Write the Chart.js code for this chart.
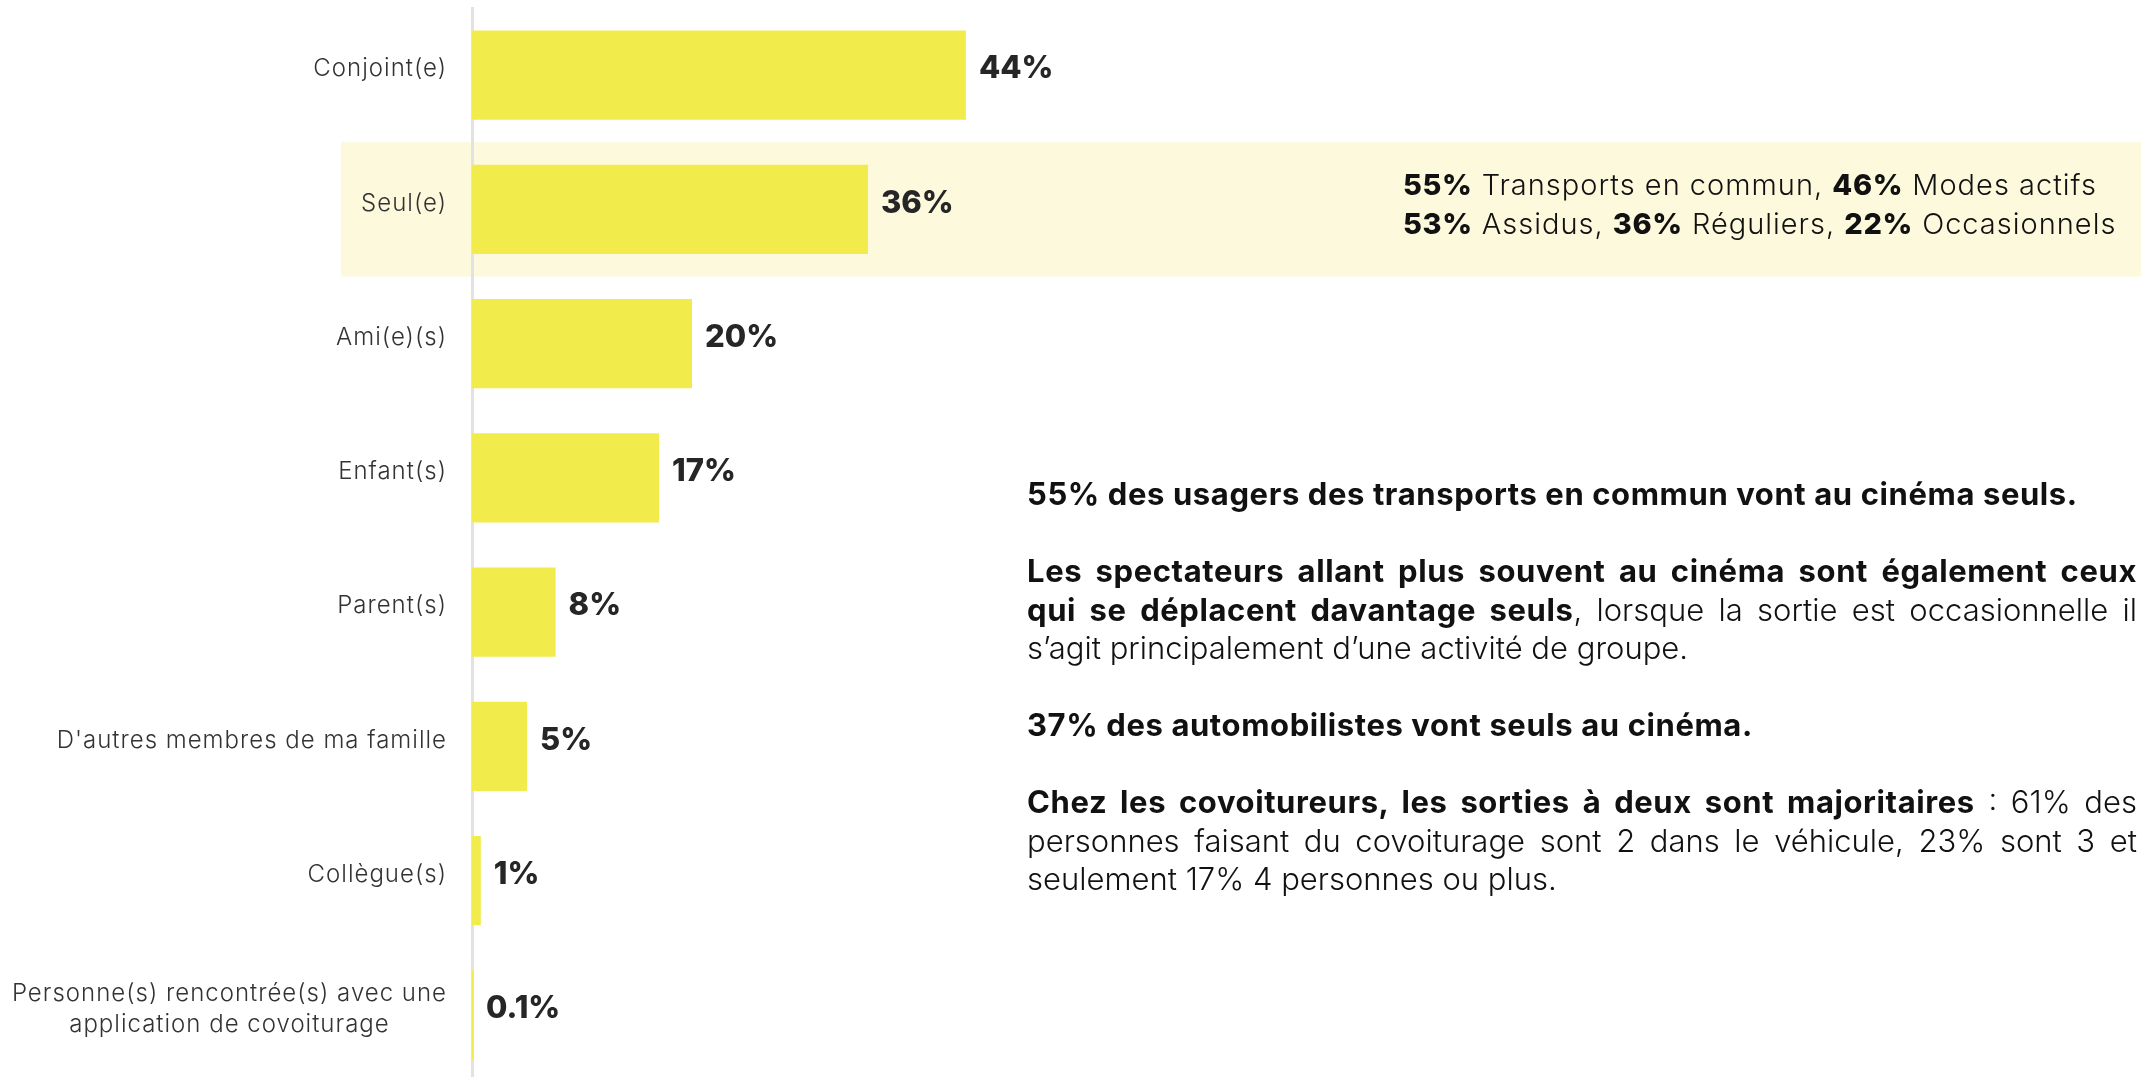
<!DOCTYPE html>
<html lang="fr">
<head>
<meta charset="utf-8">
<script src="https://cdn.jsdelivr.net/npm/chart.js@4"></script>
<style>
  html, body { margin: 0; padding: 0; background: #fff; overflow: hidden; }
  #wrap { position: relative; width: 2141px; height: 1082px; }
  #chart { position: absolute; left: 0; top: 0; }
  .note { position: absolute; font-family: Inter, sans-serif; color: #111; font-weight: 300; }
  .note b { font-weight: 700; }
  #band { left: 1403px; top: 165px; font-size: 29px; line-height: 39px; letter-spacing: 1px; white-space: nowrap; }
  #band b { font-weight: 800; letter-spacing: 0.6px; }
  #text { left: 1027px; top: 475px; width: 1110px; font-size: 31px; line-height: 38.5px; }
  #text b { letter-spacing: 0.6px; }
  #text .l { text-align: left; white-space: nowrap; }
  #text .j { text-align: justify; text-align-last: justify; white-space: nowrap; }
  #text .gap { height: 38.5px; }
</style>
</head>
<body>
<div id="wrap">
  <canvas id="chart" width="2141" height="1082"></canvas>
  <div class="note" id="band">
    <div><b>55%</b> Transports en commun, <b>46%</b> Modes actifs</div>
    <div><b>53%</b> Assidus, <b>36%</b> Réguliers, <b>22%</b> Occasionnels</div>
  </div>
  <div class="note" id="text">
    <div class="l"><b>55% des usagers des transports en commun vont au cinéma seuls.</b></div>
    <div class="gap"></div>
    <div class="j"><b>Les spectateurs allant plus souvent au cinéma sont également ceux</b></div>
    <div class="j"><b>qui se déplacent davantage seuls</b>, lorsque la sortie est occasionnelle il</div>
    <div class="l">s’agit principalement d’une activité de groupe.</div>
    <div class="gap"></div>
    <div class="l"><b>37% des automobilistes vont seuls au cinéma.</b></div>
    <div class="gap"></div>
    <div class="j"><b>Chez les covoitureurs, les sorties à deux sont majoritaires</b> : 61% des</div>
    <div class="j">personnes faisant du covoiturage sont 2 dans le véhicule, 23% sont 3 et</div>
    <div class="l">seulement 17% 4 personnes ou plus.</div>
  </div>
</div>
<script>
const categories = [
  'Conjoint(e)', 'Seul(e)', 'Ami(e)(s)', 'Enfant(s)', 'Parent(s)',
  "D'autres membres de ma famille", 'Collègue(s)',
  ['Personne(s) rencontrée(s) avec une', 'application de covoiturage'],
];
const values = [44.9, 36, 20, 17, 7.6, 5, 0.8, 0.1];
const valueLabels = ['44%', '36%', '20%', '17%', '8%', '5%', '1%', '0.1%'];
const highlightIndex = 1;

const C = { bar: '#f1ec4b', band: '#fdf9dc', axis: '#e2e2e2', label: '#333', value: '#262626' };
const FONT = 'Inter, sans-serif';
const LABEL_RIGHT = 447;
const TEXT_SHIFT = -6;

// bande surlignée derrière "Seul(e)"
const bandPlugin = {
  id: 'band',
  beforeDraw(chart) {
    const y = chart.scales.y, ctx = chart.ctx;
    const half = (y.getPixelForValue(1) - y.getPixelForValue(0)) / 2;
    const cy = y.getPixelForValue(highlightIndex);
    ctx.save();
    ctx.fillStyle = C.band;
    ctx.fillRect(341, cy - half, chart.width - 341, half * 2);
    ctx.restore();
  },
};

// libellés des catégories (multi-lignes centrées entre elles)
const labelPlugin = {
  id: 'labels',
  afterDraw(chart) {
    const y = chart.scales.y, ctx = chart.ctx;
    ctx.save();
    ctx.font = `300 24px ${FONT}`;
    ctx.letterSpacing = '1px';
    ctx.fillStyle = C.label;
    ctx.textBaseline = 'middle';
    ctx.textAlign = 'center';
    categories.forEach((c, i) => {
      const lines = Array.isArray(c) ? c : [c];
      const w = Math.max(...lines.map(l => ctx.measureText(l).width));
      const cy = y.getPixelForValue(i) + TEXT_SHIFT;
      const lh = 31;
      lines.forEach((l, k) => {
        ctx.fillText(l, LABEL_RIGHT - w / 2, cy + (k - (lines.length - 1) / 2) * lh);
      });
    });
    ctx.restore();
  },
};

// valeurs en bout de barre
const valuePlugin = {
  id: 'values',
  afterDatasetsDraw(chart) {
    const ctx = chart.ctx;
    ctx.save();
    ctx.font = `800 31px ${FONT}`;
    ctx.fillStyle = C.value;
    ctx.textAlign = 'left';
    ctx.textBaseline = 'middle';
    chart.getDatasetMeta(0).data.forEach((bar, i) => {
      ctx.fillText(valueLabels[i], bar.x + 13, bar.y + TEXT_SHIFT);
    });
    ctx.restore();
  },
};

new Chart(document.getElementById('chart'), {
  type: 'bar',
  data: {
    labels: categories,
    datasets: [{
      data: values,
      backgroundColor: C.bar,
      borderWidth: 0,
      barPercentage: 0.663,
      categoryPercentage: 1,
    }],
  },
  options: {
    indexAxis: 'y',
    responsive: false,
    animation: false,
    devicePixelRatio: 1,
    layout: { padding: { top: 8, right: 19, left: 0, bottom: 0 } },
    plugins: { legend: { display: false }, tooltip: { enabled: false } },
    scales: {
      x: { min: 0, max: 150, display: false },
      y: {
        ticks: { display: false },
        grid: { display: false, drawTicks: false },
        border: { display: true, color: C.axis, width: 3 },
        afterFit: s => { s.width = 472; },
      },
    },
  },
  plugins: [bandPlugin, labelPlugin, valuePlugin],
});
</script>
</body>
</html>
